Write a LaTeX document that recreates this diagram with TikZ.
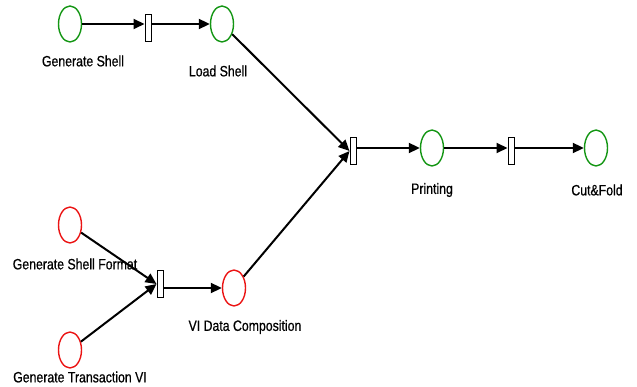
\documentclass[tikz,border=0pt]{standalone}
\usepackage{fontspec}
\setmainfont{Liberation Sans}
\newfontfamily\labfont[FakeStretch=0.82,FakeBold=0.6]{Liberation Sans}
\usetikzlibrary{arrows.meta,shapes.geometric}
\begin{document}
\begin{tikzpicture}[x=1pt,y=-1pt,
  place/.style={ellipse,draw,line width=1.4pt,minimum width=23pt,minimum height=36pt,inner sep=0pt,fill=white},
  good/.style={place,draw={rgb,255:red,20;green,150;blue,20}},
  bad/.style={place,draw={rgb,255:red,235;green,20;blue,20}},
  trans/.style={rectangle,draw,line width=1pt,fill=white,minimum width=6pt,minimum height=27pt,inner sep=0pt},
  lab/.style={font=\labfont\fontsize{15}{17}\selectfont,inner sep=0pt,anchor=center},
  arc/.style={line width=2pt,-{Triangle[length=11pt,width=10pt]}}]
\useasboundingbox (0,0) rectangle (637,387);

% places
\node[good] (gs)  at (70,24) {};
\node[good] (ls)  at (222,24) {};
\node[good] (pr)  at (432,148) {};
\node[good] (cf)  at (596,148) {};
\node[bad]  (gsf) at (70,225) {};
\node[bad]  (gtv) at (70,350) {};
\node[bad]  (vdc) at (234,288) {};

% transitions
\node[trans] (t1) at (148,28) {};
\node[trans] (t2) at (353,151) {};
\node[trans] (t3) at (511,151) {};
\node[trans] (t4) at (160,284) {};

% labels
\node[lab] (lgs)  at (83,61)  {Generate Shell};
\node[lab] (lls)  at (218,71) {Load Shell};
\node[lab] (lpr)  at (432,190) {Printing};
\node[lab] (lcf)  at (597,190) {Cut\&Fold};
\node[lab] (lgsf) at (75,264) {Generate Shell Format};
\node[lab] (lvdc) at (245,327) {VI Data Composition};
\node[lab] (lgtv) at (80,377) {Generate Transaction VI};

% arcs
\draw[arc] (gs.east) -- (t1.west |- gs.east);
\draw[arc] (t1.east |- ls.west) -- (ls.west);
\draw[arc] (ls) -- (t2.west);
\draw[arc] (vdc) -- (t2.west);
\draw[arc] (t2.east |- pr.west) -- (pr.west);
\draw[arc] (pr.east) -- (t3.west |- pr.east);
\draw[arc] (t3.east |- cf.west) -- (cf.west);
\draw[arc] (gsf) -- (t4.west);
\draw[arc] (gtv) -- (t4.west);
\draw[arc] (t4.east |- vdc.west) -- (vdc.west);

% redraw transitions over the arc ends
\node[trans] at (t1) {};
\node[trans] at (t2) {};
\node[trans] at (t3) {};
\node[trans] at (t4) {};
\end{tikzpicture}
\end{document}
